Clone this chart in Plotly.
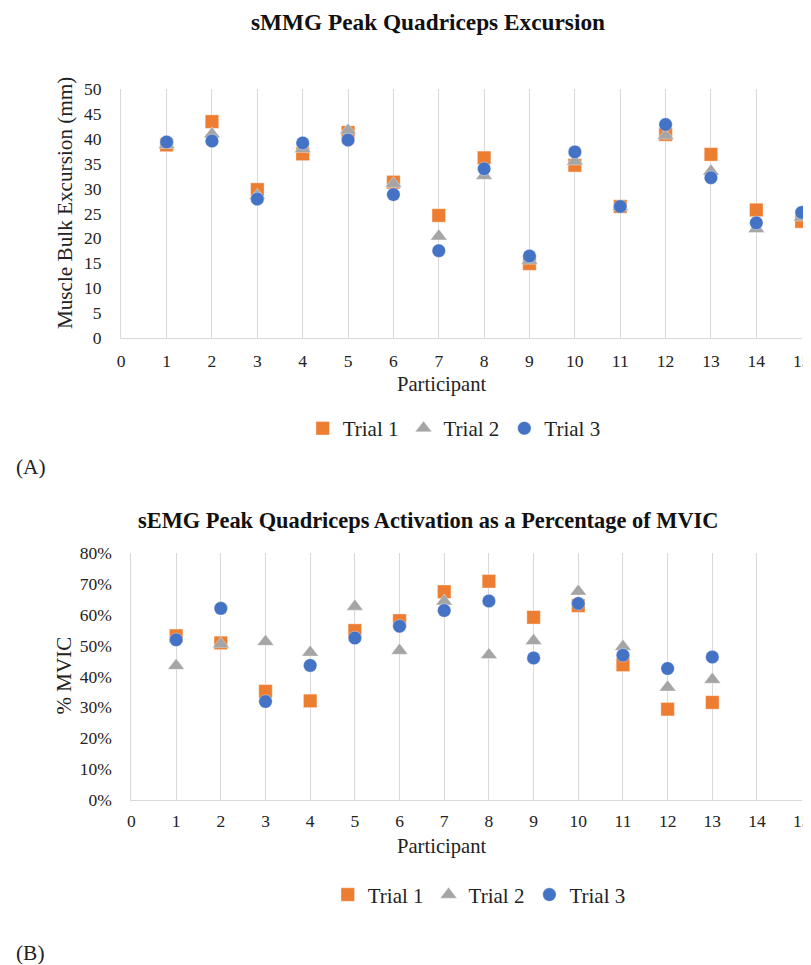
import plotly.graph_objects as go

# ---------------- data ----------------
participants_a = list(range(1, 16))
mmg_trial1 = [38.8, 43.5, 29.8, 37.0, 41.3, 31.3, 24.6, 36.2, 14.9, 34.7, 26.4, 40.9, 36.9, 25.7, 23.4]
mmg_trial2 = [38.8, 41.0, 28.6, 38.0, 41.7, 31.0, 20.4, 32.6, 15.5, 35.5, 26.3, 40.7, 33.5, 21.9, 24.2]
mmg_trial3 = [39.4, 39.6, 27.9, 39.2, 39.8, 28.8, 17.5, 34.0, 16.4, 37.4, 26.4, 42.9, 32.2, 23.1, 25.2]

participants_b = list(range(1, 14))
emg_trial1 = [0.532, 0.509, 0.352, 0.321, 0.549, 0.581, 0.675, 0.709, 0.592, 0.630, 0.438, 0.294, 0.316]
emg_trial2 = [0.435, 0.505, 0.513, 0.478, 0.627, 0.484, 0.644, 0.470, 0.516, 0.676, 0.497, 0.365, 0.390]
emg_trial3 = [0.519, 0.621, 0.319, 0.436, 0.525, 0.563, 0.614, 0.645, 0.460, 0.637, 0.469, 0.426, 0.463]

trial_names = ["Trial 1", "Trial 2", "Trial 3"]
trial_colors = ["#ED7D31", "#A5A5A5", "#4472C4"]
trial_symbols = ["square", "triangle-up", "circle"]
trial_sizes = [13.5, 14.5, 13.5]

title_a = "sMMG Peak Quadriceps Excursion"
title_b = "sEMG Peak Quadriceps Activation as a Percentage of MVIC"

W, H = 830, 985
# observed mapping from figure pixels to the photographed picture
SX, SY = 0.983, 0.979
BX, BY = 11.4, 17.7
FONT = "Liberation Serif, Times New Roman, serif"
GRID = "#d9d9d9"


def px_x(p):
    return ((p - BX) / SX) / W


def px_y(p):
    return 1 - ((p - BY) / SY) / H


fig = go.Figure()

for i, ys in enumerate([mmg_trial1, mmg_trial2, mmg_trial3]):
    fig.add_trace(go.Scatter(
        x=participants_a, y=ys, mode="markers", name=trial_names[i],
        marker=dict(symbol=trial_symbols[i], size=trial_sizes[i], color=trial_colors[i],
                    line=dict(width=0.6, color="rgba(255,255,255,0.6)")),
        cliponaxis=False, xaxis="x", yaxis="y", legend="legend",
    ))

for i, ys in enumerate([emg_trial1, emg_trial2, emg_trial3]):
    fig.add_trace(go.Scatter(
        x=participants_b, y=ys, mode="markers", name=trial_names[i],
        marker=dict(symbol=trial_symbols[i], size=trial_sizes[i], color=trial_colors[i],
                    line=dict(width=0.6, color="rgba(255,255,255,0.6)")),
        cliponaxis=False, xaxis="x2", yaxis="y2", legend="legend2",
    ))

tickfont = dict(family=FONT, size=17.5, color="#222")

common_x = dict(range=[0, 15], tick0=0, dtick=1, showgrid=True, gridcolor=GRID, gridwidth=1.3,
                zeroline=False, showline=True, linecolor=GRID, linewidth=1.3,
                ticks="", tickfont=tickfont, fixedrange=True,
                ticklabeloverflow="allow")
common_y = dict(showgrid=False, zeroline=False, showline=True, linecolor=GRID, linewidth=1.3,
                ticks="", tickfont=tickfont, ticklabelstandoff=15, fixedrange=True)

fig.update_layout(
    width=W, height=H,
    margin=dict(l=0, r=0, t=0, b=0),
    paper_bgcolor="white", plot_bgcolor="white",
    font=dict(family=FONT, color="#222"),
    xaxis=dict(domain=[px_x(120.5), px_x(800)], anchor="y", ticklabelstandoff=7, **common_x),
    yaxis=dict(domain=[px_y(337), px_y(89)], anchor="x", range=[0, 50], dtick=5, **common_y),
    xaxis2=dict(domain=[px_x(130.7), px_x(800)], anchor="y2", ticklabelstandoff=5, **common_x),
    yaxis2=dict(domain=[px_y(799), px_y(552.5)], anchor="x2", range=[0, 0.8], dtick=0.1,
                tickformat=".0%", **common_y),
    legend=dict(orientation="h", x=px_x(453), xanchor="center", y=px_y(428), yanchor="middle",
                font=dict(family=FONT, size=21, color="#222"), bgcolor="rgba(0,0,0,0)",
                itemwidth=30, tracegroupgap=0),
    legend2=dict(orientation="h", x=px_x(478), xanchor="center", y=px_y(894), yanchor="middle",
                 font=dict(family=FONT, size=21, color="#222"), bgcolor="rgba(0,0,0,0)",
                 itemwidth=30, tracegroupgap=0),
    showlegend=True,
)

ann = []
ann.append(dict(text="<b>" + title_a + "</b>", x=px_x(427), y=px_y(22), xref="paper", yref="paper",
                xanchor="center", yanchor="middle", showarrow=False,
                font=dict(family=FONT, size=23.3, color="#111")))
ann.append(dict(text="<b>" + title_b + "</b>", x=px_x(427), y=px_y(520), xref="paper", yref="paper",
                xanchor="center", yanchor="middle", showarrow=False,
                font=dict(family=FONT, size=22.4, color="#111")))
ann.append(dict(text="Muscle Bulk Excursion (mm)", x=px_x(65), y=px_y(203), xref="paper", yref="paper",
                xanchor="center", yanchor="middle", showarrow=False, textangle=-90,
                font=dict(family=FONT, size=21.2, color="#222")))
ann.append(dict(text="% MVIC", x=px_x(63), y=px_y(675), xref="paper", yref="paper",
                xanchor="center", yanchor="middle", showarrow=False, textangle=-90,
                font=dict(family=FONT, size=21, color="#222")))
ann.append(dict(text="Participant", x=px_x(440), y=px_y(384), xref="paper", yref="paper",
                xanchor="center", yanchor="middle", showarrow=False,
                font=dict(family=FONT, size=20.6, color="#222")))
ann.append(dict(text="Participant", x=px_x(440), y=px_y(846), xref="paper", yref="paper",
                xanchor="center", yanchor="middle", showarrow=False,
                font=dict(family=FONT, size=20.6, color="#222")))
ann.append(dict(text="(A)", x=px_x(13), y=px_y(466), xref="paper", yref="paper",
                xanchor="left", yanchor="middle", showarrow=False,
                font=dict(family=FONT, size=21.4, color="#222")))
ann.append(dict(text="(B)", x=px_x(13), y=px_y(952), xref="paper", yref="paper",
                xanchor="left", yanchor="middle", showarrow=False,
                font=dict(family=FONT, size=21.4, color="#222")))
fig.update_layout(annotations=ann)

fig.write_html("out.html")
